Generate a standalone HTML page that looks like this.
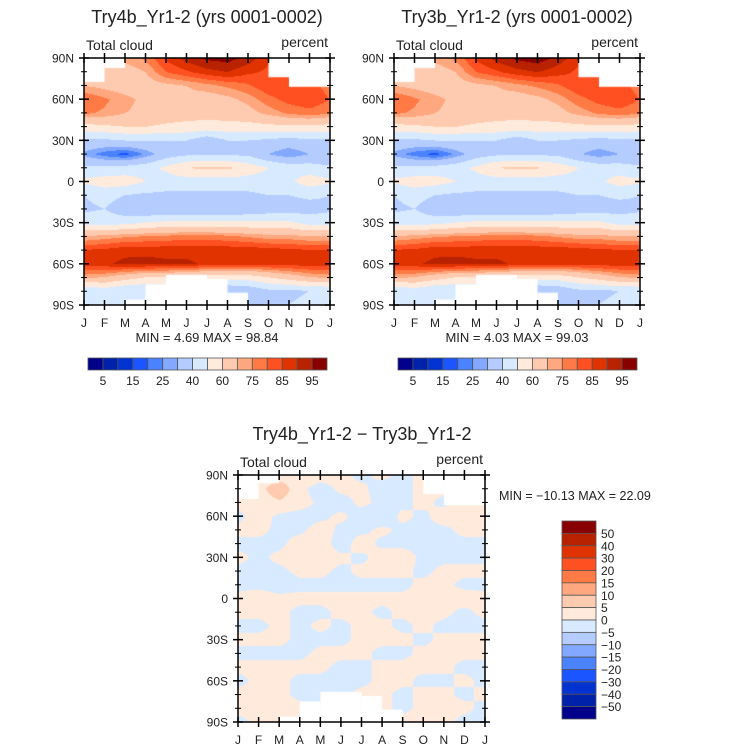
<!DOCTYPE html>
<html><head><meta charset="utf-8">
<style>
body{margin:0;width:732px;height:751px;background:#fff;overflow:hidden;font-family:"Liberation Sans","DejaVu Sans",sans-serif;}
#wrap{position:relative;width:732px;height:751px;}
canvas{position:absolute;}
svg{position:absolute;left:0;top:0;}
</style></head><body>
<div id="wrap">
<canvas id="c1"></canvas>
<canvas id="c2"></canvas>
<canvas id="c3"></canvas>
<svg id="ov" width="732" height="751"></svg>
</div>
<script>
// ---- data ----
const months = ["J","F","M","A","M","J","J","A","S","O","N","D","J"];
const latTicks = ["90N","60N","30N","0","30S","60S","90S"];
const lats = [90,80,70,60,50,40,30,20,10,0,-10,-20,-30,-40,-50,-60,-70,-80,-90];
const colors = ["#00008a","#0022aa","#0033d0","#1a55ff","#4a82ff","#82a8ff","#b4ccff","#d8eaff","#ffeadb","#ffcbb0","#ffa880","#ff7a45","#ff5022","#e03300","#b82200","#880000"];
const levelsAbs = [5,10,15,20,25,30,40,50,60,70,75,80,85,90,95];
const levelsDiff = [-50,-40,-30,-20,-15,-10,-5,0,5,10,15,20,30,40,50];
const absLabels = ["5","15","25","40","60","75","85","95"];
const diffLabels = ["50","40","30","20","15","10","5","0","\u22125","\u221210","\u221215","\u221220","\u221230","\u221240","\u221250"];
const grid1 = [
[66,68,72,76,86,92,96,97,93,86,80,78,76],
[62,64,66,70,80,84,88,90,86,84,80,78,76],
[70,68,66,66,68,70,73,76,79,84,84,82,78],
[80,76,72,68,68,68,66,68,72,78,82,84,80],
[76,74,70,68,66,64,64,65,67,72,76,78,76],
[56,58,60,60,58,57,56,56,56,57,58,58,56],
[38,38,40,40,40,40,33,40,40,38,36,38,38],
[28,22,18,26,35,38,38,38,38,30,25,30,30],
[42,42,44,46,52,60,62,62,56,50,46,45,42],
[52,55,55,50,45,45,45,45,45,46,48,55,52],
[40,44,40,38,38,38,38,38,38,40,40,42,40],
[38,40,33,30,30,30,30,30,32,34,35,36,38],
[46,46,46,50,52,52,52,52,52,52,52,46,46],
[70,72,74,75,76,77,77,76,74,72,72,70,70],
[85,86,88,88,88,88,88,88,88,87,86,85,85],
[88,89,91.5,92,91,91,89,88,88,88,88,88,88],
[72,70,65,60,60,58,55,55,55,60,65,70,72],
[40,45,40,40,40,38,35,30,32,38,38,40,40],
[40,42,40,40,40,40,40,38,38,40,40,42,40]];
const grid2 = [
[66,68,72,76,86,92,96,98,93,86,80,78,76],
[62,64,66,70,80,84,88,90,87,84,80,78,76],
[70,68,66,66,68,70,73,76,79,84,84,82,78],
[80,76,72,68,68,68,66,68,72,78,82,84,80],
[76,74,70,68,66,64,64,65,67,72,76,78,76],
[56,58,60,60,58,57,56,56,56,57,58,58,56],
[38,38,40,40,40,40,34,40,40,38,36,38,38],
[28,22,18,26,35,38,38,38,38,31,26,30,30],
[42,42,44,46,52,60,62,61,56,50,46,45,42],
[52,55,54,50,45,45,45,45,45,46,48,54,52],
[40,44,40,38,38,38,38,38,38,40,40,42,40],
[38,40,33,30,30,30,30,30,32,34,35,36,38],
[46,46,46,50,52,52,52,52,52,52,52,46,46],
[70,72,74,75,76,77,77,76,74,72,72,70,70],
[85,86,88,88,88,88,88,88,88,87,86,85,85],
[88,89,91.5,92,91,91,89,88,88,88,88,88,88],
[72,70,65,60,60,58,55,55,55,60,65,70,72],
[40,45,40,40,40,38,35,30,32,38,38,40,40],
[40,42,40,40,40,40,40,38,38,40,40,42,40]];
const gridDiff = [
[2,2,2,3,2,1,-1,1,-1,1,1,1,1],
[2,3,9,1,-2,1,1,-2,-1,1,1,1,1],
[1,2,4,2,-1,-2,1,-1,-1,1,-1,2,1],
[-1,2,-1,-2,-1,1,-2,-3,1,-1,2,1,1],
[1,1,-1,-1,2,-1,-1,1,-1,-1,-1,1,1],
[-1,-1,-1,2,2,-2,2,-1,-1,-1,-1,-1,-1],
[1,-1,1,2,2,1,-1,2,2,-1,-1,-1,-1],
[-1,-1,-1,1,1,-1,1,1,1,-1,1,1,1],
[-1,-1,-2,-1,-1,-1,-1,-1,-1,1,1,-1,-1],
[1,2,1,1,1,1,1,1,1,1,1,2,1],
[1,1,1,-1,-1,1,1,-1,1,1,1,-1,1],
[-1,-1,1,-1,1,-1,1,1,-1,1,-1,-1,-1],
[1,1,1,-1,-1,-1,1,1,1,-1,1,1,1],
[-1,-1,-1,-1,1,1,1,-1,-1,1,1,1,1],
[1,1,1,1,1,-1,-1,1,1,1,1,-1,-1],
[-1,1,1,-1,-1,-1,-1,1,1,-1,-1,1,-1],
[1,1,1,-1,-1,-1,1,1,-1,1,1,-1,1],
[1,2,1,1,-1,-1,1,1,-1,1,1,1,-1],
[-1,1,1,-1,-1,1,1,1,1,1,1,-1,-1]];
// missing regions: [monthStart, monthEnd, latTop, latBottom]
const missingAbs = [[0,1,90,72.5],[1,2,90,82.7],[9,10,90,76],[10,12,90,69],[2,3,-86,-90],[3,4,-75,-90],[4,6,-68,-90],[6,7,-71,-90],[7,8,-81,-90]];
const missingDiff = [[0,1,90,72.5],[1,2,90,84],[9,10,90,76],[10,12,90,68],[2,3,-86,-90],[3,4,-75,-90],[4,6,-68,-90],[6,7,-71,-90],[7,8,-81,-90]];

const ov = document.getElementById('ov');
const NS = "http://www.w3.org/2000/svg";
function el(tag, attrs, txt){const e=document.createElementNS(NS,tag);for(const k in attrs)e.setAttribute(k,attrs[k]);if(txt!==undefined)e.textContent=txt;ov.appendChild(e);return e;}
function colorFor(v, levels){let i=0;while(i<levels.length && v>=levels[i])i++;return colors[i];}
function drawPanel(id, P, grid, levels, missing){
  const cv=document.getElementById(id);
  cv.style.left=P.x+"px";cv.style.top=P.y+"px";cv.width=P.w;cv.height=P.h;
  const ctx=cv.getContext('2d');
  for(let py=0;py<P.h;py++){
    const fy=py/(P.h-1)*(lats.length-1);const r0=Math.min(Math.floor(fy),lats.length-2);const ty=fy-r0;
    for(let px=0;px<P.w;px++){
      const fx=px/(P.w-1)*12;const c0=Math.min(Math.floor(fx),11);const tx=fx-c0;
      const v=(grid[r0][c0]*(1-tx)+grid[r0][c0+1]*tx)*(1-ty)+(grid[r0+1][c0]*(1-tx)+grid[r0+1][c0+1]*tx)*ty;
      ctx.fillStyle=colorFor(v,levels);ctx.fillRect(px,py,1,1);
    }
  }
  ctx.fillStyle="#fff";
  missing.forEach(m=>{const x0=m[0]/12*P.w,x1=m[1]/12*P.w,y0=(90-m[2])/180*P.h,y1=(90-m[3])/180*P.h;ctx.fillRect(x0,y0,x1-x0,y1-y0);});
  const f=el('rect',{x:P.x,y:P.y,width:P.w,height:P.h,fill:"none",stroke:"#000","stroke-width":1.5});
  
  for(let i=0;i<=12;i++){const x=P.x+i/12*P.w;
    el('line',{x1:x,x2:x,y1:P.y-5,y2:P.y+5,stroke:"#000","stroke-width":1.5});
    el('line',{x1:x,x2:x,y1:P.y+P.h-5,y2:P.y+P.h+5,stroke:"#000","stroke-width":1.5});
    const t=el('text',{x:x,y:P.y+P.h+22,"font-size":12,"text-anchor":"middle",fill:"#222"},months[i]);
    }
  for(let i=0;i<=18;i++){const y=P.y+i/18*P.h;const big=i%3===0;const L=big?5:3;
    el('line',{x1:P.x-L,x2:P.x+L,y1:y,y2:y,stroke:"#000","stroke-width":big?1.5:1});
    el('line',{x1:P.x+P.w-L,x2:P.x+P.w+L,y1:y,y2:y,stroke:"#000","stroke-width":big?1.5:1});
    if(big){const t=el('text',{x:P.x-10,y:y+4.5,"font-size":12,"text-anchor":"end",fill:"#222"},latTicks[i/3]);
      }}
  const a=el('text',{x:P.x+2,y:P.y-8,"font-size":14,fill:"#222"},"Total cloud");
  const b=el('text',{x:P.x+P.w-2,y:P.y-11,"font-size":14,"text-anchor":"end",fill:"#222"},"percent");
}
const P1={x:84,y:58,w:246,h:247},P2={x:394,y:58,w:246,h:247},P3={x:238,y:475,w:247,h:247};
drawPanel('c1',P1,grid1,levelsAbs,missingAbs);
drawPanel('c2',P2,grid2,levelsAbs,missingAbs);
drawPanel('c3',P3,gridDiff,levelsDiff,missingDiff);
function txt(x,y,s,size,anchor,name){const t=el('text',{x:x,y:y,"font-size":size,"text-anchor":anchor||"start",fill:"#222"},s);}
txt(207,23,"Try4b_Yr1-2 (yrs 0001-0002)",18,"middle","title-try4b");
txt(517,23,"Try3b_Yr1-2 (yrs 0001-0002)",18,"middle","title-try3b");
txt(362,440,"Try4b_Yr1-2 \u2212 Try3b_Yr1-2",18,"middle","title-diff");
txt(207,342,"MIN =    4.69  MAX =   98.84",13,"middle","minmax-try4b");
txt(517,342,"MIN =    4.03  MAX =   99.03",13,"middle","minmax-try3b");
txt(499,500,"MIN = \u221210.13  MAX =   22.09",12.5,"start","minmax-diff");
function hbar(x0,y0,w,h){const n=colors.length;const bw=w/n;
  for(let i=0;i<n;i++){const r=el('rect',{x:x0+i*bw,y:y0,width:bw,height:h,fill:colors[i],stroke:"#555","stroke-width":0.8});
    }
  absLabels.forEach((l,j)=>{const i=j*2+1;const t=el('text',{x:x0+i*bw,y:y0+h+15,"font-size":12,"text-anchor":"middle",fill:"#222"},l);
    });}
hbar(88,358,239,12);hbar(398,358,239,12);
(function(){const x0=562,y0=521,w=34,h=198,n=colors.length,bh=h/n;
  for(let i=0;i<n;i++){const r=el('rect',{x:x0,y:y0+i*bh,width:w,height:bh,fill:colors[n-1-i],stroke:"#555","stroke-width":0.8});
    }
  diffLabels.forEach((l,i)=>{const t=el('text',{x:x0+w+5,y:y0+(i+1)*bh+4.5,"font-size":12,fill:"#222"},l);
    });})();
</script>
</body></html>
